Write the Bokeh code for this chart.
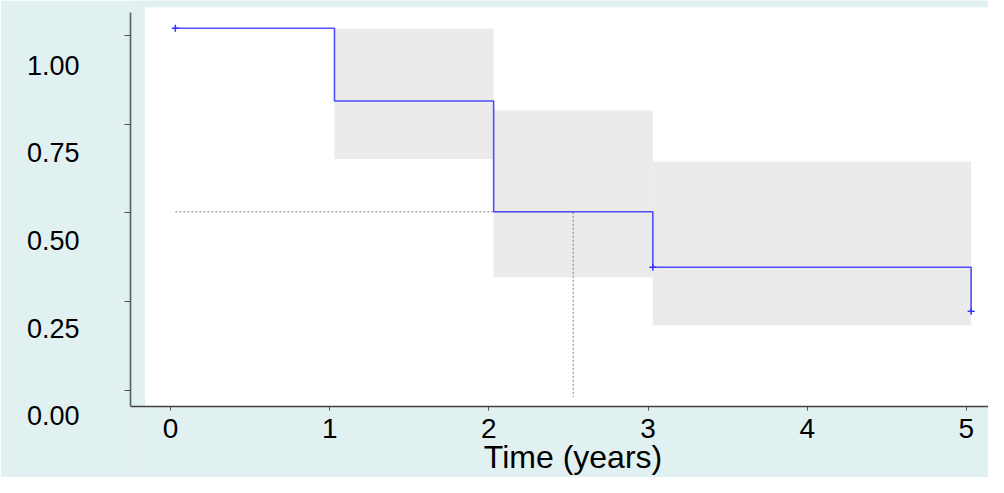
from bokeh.plotting import figure
from bokeh.models import (BoxAnnotation, FixedTicker, ColumnDataSource, LinearAxis,
                          Range1d)
from bokeh.embed import file_html
from bokeh.resources import INLINE

# ---- data ----
time = [0.03, 1.03, 2.03, 3.03, 5.03]
surv = [1.02, 0.815, 0.503, 0.347, 0.223]
ci_start = [1.03, 2.03, 3.03]
ci_end = [2.03, 3.03, 5.03]
ci_upper = [1.019, 0.789, 0.644]
ci_lower = [0.652, 0.319, 0.183]
censor_time = [0.03, 3.03, 5.03]
censor_surv = [1.02, 0.347, 0.223]
median_time = 2.53
median_surv = 0.503
x_ticks = [0, 1, 2, 3, 4, 5]
y_ticks = [0, 0.25, 0.5, 0.75, 1.0]
y_tick_labels = ["0.00", "0.25", "0.50", "0.75", "1.00"]
x_title = "Time (years)"

FONT = "Liberation Sans"
TEAL = "#e1f1f1"
Y_AXIS_BOTTOM = -0.0463   # where the x axis sits

p = figure(width=988, height=477,
           x_range=(-0.2516, 5.139), y_range=(-0.2452, 1.0981),
           output_backend="svg", toolbar_location=None,
           min_border_left=130, min_border_right=0,
           min_border_top=0, min_border_bottom=0)
p.border_fill_color = TEAL
p.background_fill_color = TEAL
p.outline_line_color = None
p.grid.visible = False

# white panel
p.add_layout(BoxAnnotation(left=-0.1607, top=1.079, bottom=Y_AXIS_BOTTOM,
                           fill_color="white", fill_alpha=1.0,
                           line_color=None, level="underlay"))

# confidence bands
band_src = ColumnDataSource(dict(left=ci_start, right=ci_end, top=ci_upper, bottom=ci_lower))
p.quad(left="left", right="right", top="top", bottom="bottom", source=band_src,
       fill_color="#ebebeb", line_color=None)

# median guide lines
p.line([time[0], median_time], [median_surv, median_surv],
       line_color="#808080", line_width=1, line_dash="2 2")
p.line([median_time, median_time], [median_surv, -0.018],
       line_color="#808080", line_width=1, line_dash="2 2")

# survival step curve
p.step(time, surv, mode="after", line_color="#3333ff", line_width=1.6, line_alpha=0.85)
p.scatter(censor_time, censor_surv, marker="cross", size=7,
          line_color="#3333ff", line_width=1.5)

# x axis (drawn at the bottom of the white panel)
xa = p.xaxis[0]
xa.fixed_location = Y_AXIS_BOTTOM
xa.ticker = FixedTicker(ticks=x_ticks)
xa.axis_line_color = "#404040"
xa.axis_line_width = 1.7
xa.major_tick_line_color = "#505050"
xa.major_tick_out = 4
xa.major_tick_in = 0
xa.minor_tick_line_color = None
xa.major_label_text_font = FONT
xa.major_label_text_font_size = "28px"
xa.major_label_text_color = "black"
xa.major_label_standoff = 8

# x axis title, centred where the reference centres it
xt = LinearAxis(fixed_location=Y_AXIS_BOTTOM, ticker=FixedTicker(ticks=[]),
                bounds=(0.0, 2 * median_time), axis_label=x_title)
xt.axis_line_color = None
xt.major_tick_line_color = None
xt.minor_tick_line_color = None
xt.major_tick_out = 0
xt.major_tick_in = 0
xt.major_label_standoff = 0
xt.axis_label_standoff = 32
xt.axis_label_text_font = FONT
xt.axis_label_text_font_size = "32px"
xt.axis_label_text_font_style = "normal"
xt.axis_label_text_color = "black"
p.add_layout(xt, "below")

# y axis: line + tick marks only (tick marks drawn as unlabeled minor ticks)
ya = p.yaxis[0]
ya.ticker = FixedTicker(ticks=[], minor_ticks=y_ticks)
ya.bounds = (Y_AXIS_BOTTOM, 1.065)
ya.axis_line_color = "#5a6464"
ya.axis_line_width = 1.7
ya.major_tick_out = 6
ya.major_tick_in = 0
ya.minor_tick_line_color = "#505050"
ya.minor_tick_line_width = 1
ya.minor_tick_out = 6
ya.minor_tick_in = 0
ya.major_label_standoff = 0

# y tick labels: drawn (as in the reference) offset below their tick marks,
# via a second, label-only axis on its own range
p.extra_y_ranges = {"lab": Range1d(-0.1767, 1.1850)}
yl = LinearAxis(y_range_name="lab", ticker=FixedTicker(ticks=y_ticks),
                major_label_overrides={v: t for v, t in zip(y_ticks, y_tick_labels)})
yl.axis_line_color = None
yl.major_tick_line_color = None
yl.minor_tick_line_color = None
yl.major_tick_out = 0
yl.major_tick_in = 0
yl.major_label_standoff = 45
yl.major_label_text_font = FONT
yl.major_label_text_font_size = "27px"
yl.major_label_text_color = "black"
p.add_layout(yl, "left")

open("out.html", "w").write(file_html(p, INLINE))
